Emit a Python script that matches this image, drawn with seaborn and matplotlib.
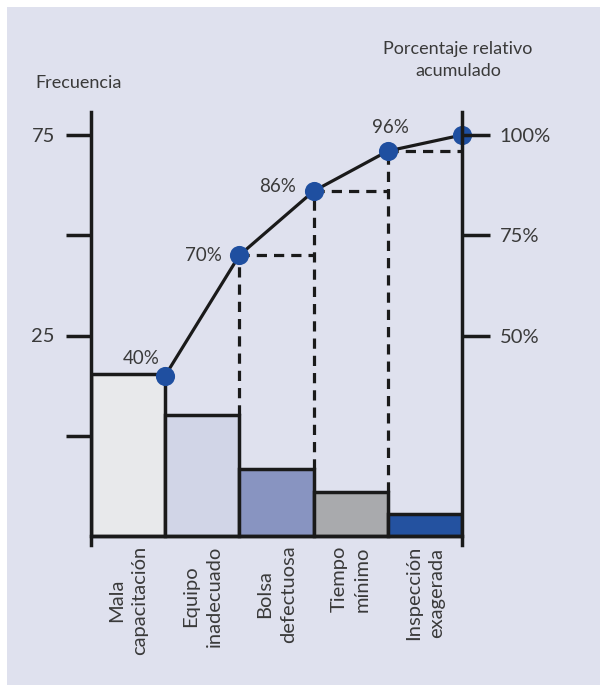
import matplotlib
matplotlib.use('Agg')
import matplotlib.pyplot as plt
import seaborn as sns
from matplotlib.patches import Rectangle

causas = ['Mala\ncapacitación', 'Equipo\ninadecuado', 'Bolsa\ndefectuosa',
          'Tiempo\nmínimo', 'Inspección\nexagerada']
frecuencia = [40.5, 30.2, 16.7, 11.0, 5.5]      # alto de barras (en escala de %)
acumulado = [40, 70, 86, 96, 100]                # porcentaje relativo acumulado
etiquetas_acum = ['40%', '70%', '86%', '96%', '']
colores = ['#e8e9eb', '#d1d5e7', '#8894c1', '#a9aaad', '#2452a0']
ticks_izq = [25, 50, 75, 100]
labels_izq = ['', '25', '', '75']
ticks_der = [50, 75, 100]
labels_der = ['50%', '75%', '100%']

sns.set_style('white')
plt.rcParams['font.family'] = ['Lato', 'DejaVu Sans']
txt = '#3a3a3a'
bg = '#dfe1ee'

fig = plt.figure(figsize=(6, 6.85), dpi=100)
fig.patch.set_facecolor('white')
fig.patches.append(Rectangle((7 / 600, 0), 1, 1 - 7 / 685, transform=fig.transFigure,
                             facecolor=bg, edgecolor='none', zorder=-10))

ax = fig.add_axes([91 / 600, (685 - 545) / 685, 371 / 600, (545 - 112) / 685])
ax.set_facecolor('none')

sns.barplot(x=causas, y=frecuencia, hue=causas, palette=colores, legend=False,
            saturation=1, width=1.0, edgecolor='#1a1a1a', linewidth=2.5, ax=ax, zorder=2)

ppu = 401 / 100  # px por unidad
ax.set_ylim(-9 / ppu, (536 - 112) / ppu)
ax.set_xlim(-0.5, 4.5)

# linea acumulada
xs = [i + 0.5 for i in range(len(acumulado))]
ax.plot(xs, acumulado, color='#1a1a1a', lw=2.3, zorder=4, clip_on=False)
ax.scatter(xs, acumulado, s=190, color='#1f4fa0', zorder=5, clip_on=False, linewidths=0)

# lineas punteadas
for i in range(1, 4):
    ax.plot([xs[i], xs[i] + 1], [acumulado[i], acumulado[i]], color='#1a1a1a',
            lw=2.3, ls=(0, (3.2, 2.2)), zorder=3)
    ax.plot([xs[i], xs[i]], [frecuencia[i], acumulado[i]], color='#1a1a1a',
            lw=2.3, ls=(0, (3.2, 2.2)), zorder=3)

offsets = [(-17, 12), (-26, 0), (-26, 3), (2, 17)]
for i, lab in enumerate(etiquetas_acum):
    if lab:
        ax.annotate(lab, (xs[i], acumulado[i]), xytext=offsets[i], textcoords='offset points',
                    ha='center', va='center', fontsize=13.5, color=txt)

# ejes
for s in ['top', 'right']:
    ax.spines[s].set_visible(False)
ax.spines['left'].set_linewidth(2.5)
ax.spines['left'].set_color('#1a1a1a')
ax.spines['bottom'].set_position(('data', 0))
ax.spines['bottom'].set_linewidth(2.5)
ax.spines['bottom'].set_color('#1a1a1a')

ax.set_yticks(ticks_izq)
ax.set_yticklabels(labels_izq)
ax.tick_params(axis='y', length=18, width=2.5, color='#1a1a1a', pad=8,
               labelsize=14.5, labelcolor=txt)
ax.set_xticks(range(len(causas)))
ax.set_xticklabels(causas, rotation=90, ha='center', va='top', multialignment='center',
                   fontsize=14.5, color=txt, linespacing=1.45)
ax.tick_params(axis='x', length=0, pad=7)
ax.set_xlabel('')
ax.set_ylabel('')

ax2 = ax.twinx()
ax2.set_ylim(ax.get_ylim())
for s in ['top', 'left', 'bottom']:
    ax2.spines[s].set_visible(False)
ax2.spines['right'].set_linewidth(2.5)
ax2.spines['right'].set_color('#1a1a1a')
ax2.set_yticks(ticks_der)
ax2.set_yticklabels(labels_der)
ax2.tick_params(axis='y', length=20, width=2.5, color='#1a1a1a', pad=7,
                labelsize=14.5, labelcolor=txt)

fig.text(35 / 600, 1 - 83 / 685, 'Frecuencia', ha='left', va='center', fontsize=13, color=txt)
fig.text(458 / 600, 1 - 60 / 685, 'Porcentaje relativo\nacumulado', ha='center', va='center',
         fontsize=13, color=txt, linespacing=1.5)

fig.savefig('out.png', dpi=100, facecolor=fig.get_facecolor())
